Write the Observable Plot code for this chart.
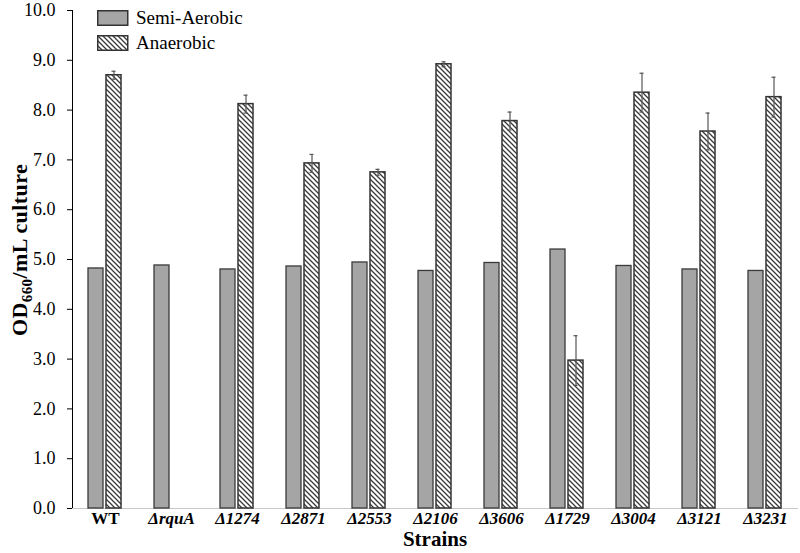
<!DOCTYPE html>
<html><head><meta charset="utf-8">
<script src="https://cdn.jsdelivr.net/npm/d3@7"></script>
<script src="https://cdn.jsdelivr.net/npm/@observablehq/plot@0.6"></script>
<style>
body{margin:0;background:#fff;}
#wrap{position:relative;width:800px;height:553px;}
#legend{position:absolute;left:97px;top:5px;font-family:"Liberation Serif",serif;font-size:19px;color:#000;line-height:25px;}
#legend .row{display:flex;align-items:center;height:25px;}
#legend svg{margin-right:7px;}
</style></head><body><div id="wrap"><div id="legend"></div></div>
<script>
const strains = ["WT","ΔrquA","Δ1274","Δ2871","Δ2553","Δ2106","Δ3606","Δ1729","Δ3004","Δ3121","Δ3231"];
const seriesNames = ["Semi-Aerobic","Anaerobic"];
const semiAerobic = [4.82,4.88,4.80,4.86,4.94,4.77,4.93,5.20,4.87,4.80,4.77];
const anaerobic = [8.70,null,8.12,6.93,6.75,8.92,7.78,2.97,8.35,7.57,8.26];
const anaerobicErr = [0.08,null,0.18,0.18,0.06,0.05,0.18,0.50,0.39,0.37,0.40];
const yTicks = [0,1,2,3,4,5,6,7,8,9,10];

const FONT = "'Liberation Serif', serif";
const semiRows = strains.map((s,i)=>({strain:s, series:seriesNames[0], value:semiAerobic[i]}));
const anaRows = strains.map((s,i)=>({strain:s, series:seriesNames[1], value:anaerobic[i], err:anaerobicErr[i]})).filter(d=>d.value!=null);

const plot = Plot.plot({
  width:800, height:553,
  marginLeft:70, marginRight:0, marginTop:10, marginBottom:45,
  style:{fontFamily:FONT, fontSize:"18px", color:"#000", background:"#fff", overflow:"visible"},
  fx:{domain:strains, padding:0, axis:null, label:null},
  x:{domain:seriesNames, axis:null, paddingInner:0.158, paddingOuter:0.825},
  y:{domain:[0,10], ticks:yTicks, tickFormat:d3.format(".1f"), tickSize:5, tickPadding:12, label:null, line:true},
  marks:[
    Plot.ruleY([0], {stroke:"#c8c8c8", strokeWidth:1.2}),
    Plot.barY(semiRows, {fx:"strain", x:"series", y:"value", fill:"#a5a5a5", stroke:"#3a3a3a", strokeWidth:1.3}),
    Plot.barY(anaRows, {fx:"strain", x:"series", y:"value", fill:"url(#hatch)", stroke:"#333", strokeWidth:1.5}),
    Plot.ruleX(anaRows, {fx:"strain", x:"series", y1:d=>d.value-d.err, y2:d=>d.value+d.err, stroke:"#555", strokeWidth:1.2}),
    Plot.tickY(anaRows, {fx:"strain", x:"series", y:d=>d.value+d.err, stroke:"#555", strokeWidth:1.2, insetLeft:5.5, insetRight:5.5}),
    Plot.tickY(anaRows, {fx:"strain", x:"series", y:d=>d.value-d.err, stroke:"#555", strokeWidth:1.2, insetLeft:5.5, insetRight:5.5}),
    Plot.text(strains.filter(s=>s==="WT"), {fx:d=>d, text:d=>d, frameAnchor:"bottom", dy:15, fontWeight:"bold", fontSize:17}),
    Plot.text(strains.filter(s=>s!=="WT"), {fx:d=>d, text:d=>d, frameAnchor:"bottom", dy:15, fontWeight:"bold", fontStyle:"italic", fontSize:17})
  ]
});

const svg = d3.select(plot);
const defs = svg.insert("defs", ":first-child");
const pat = defs.append("pattern").attr("id","hatch").attr("patternUnits","userSpaceOnUse").attr("width",5).attr("height",5);
pat.append("rect").attr("width",5).attr("height",5).attr("fill","#fff");
pat.append("path").attr("d","M-1,-1L6,6M-1,4L1,6M4,-1L6,1").attr("stroke","#3a3a3a").attr("stroke-width",1.3);

// axis titles
svg.append("text").attr("x",435).attr("y",546).attr("text-anchor","middle")
  .attr("font-weight","bold").attr("font-size",21).attr("fill","#000").text("Strains");
const yl = svg.append("text").attr("transform","translate(27,250) rotate(-90)").attr("text-anchor","middle")
  .attr("font-weight","bold").attr("font-size",22).attr("letter-spacing",0.4).attr("fill","#000");
yl.append("tspan").text("OD");
yl.append("tspan").attr("font-size",15).attr("dy",5).text("660");
yl.append("tspan").attr("dy",-5).text("/mL culture");

document.getElementById("wrap").prepend(plot);

// legend
const legend = d3.select("#legend");
seriesNames.forEach((name,i)=>{
  const row = legend.append("div").attr("class","row");
  const sw = row.append("svg").attr("width",32).attr("height",16);
  sw.append("rect").attr("x",0.75).attr("y",0.75).attr("width",30).attr("height",14.5)
    .attr("fill", i===0 ? "#a5a5a5" : "url(#hatch)").attr("stroke","#333").attr("stroke-width",1.5);
  row.append("span").text(name);
});
</script>
</body></html>
